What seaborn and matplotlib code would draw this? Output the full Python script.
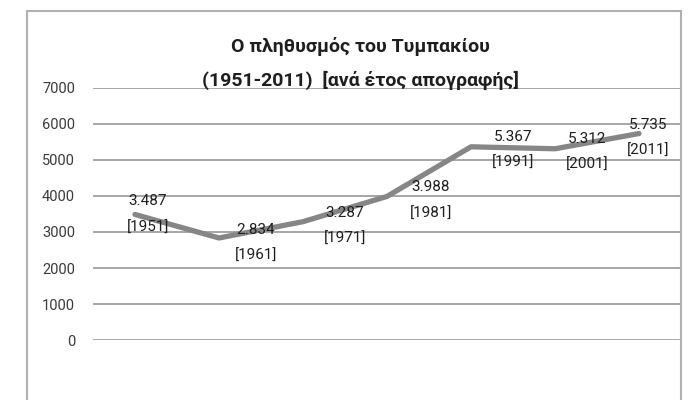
import matplotlib
matplotlib.use("Agg")
import matplotlib.pyplot as plt
from matplotlib import font_manager
from matplotlib.lines import Line2D
import seaborn as sns
import pandas as pd

# ---- data ----
years = ["1951", "1961", "1971", "1981", "1991", "2001", "2011"]
population = [3487, 2834, 3287, 3988, 5367, 5312, 5735]
yticks = [0, 1000, 2000, 3000, 4000, 5000, 6000, 7000]
title_lines = ["Ο πληθυσμός του Τυμπακίου", "(1951-2011)  [ανά έτος απογραφής]"]

# label offsets in pixels (style only)
label_dx = [13, 37, 42, 44, 42, 32, 9]
label_dy = [0, 5, 4, 4, 3, 3, 4]

sns.set_theme(style="white")
names = {f.name for f in font_manager.fontManager.ttflist}
fam = "Liberation Sans Narrow" if "Liberation Sans Narrow" in names else "Roboto"
plt.rcParams["font.family"] = [fam, "DejaVu Sans"]

df = pd.DataFrame({"idx": range(len(years)), "pop": population, "year": years})

fig = plt.figure(figsize=(6.96, 4.0), dpi=100)
fig.patch.set_facecolor("white")
W, H = 696, 400
ax = fig.add_axes([93 / W, 1 - 340 / H, (681 - 93) / W, (340 - 88) / H])

sns.lineplot(data=df, x="idx", y="pop", ax=ax, color="#868686", linewidth=3.8,
             solid_joinstyle="round", solid_capstyle="round", legend=False)

ax.set_xlim(-0.5, len(years) - 0.5)
ax.set_ylim(0, 7000)
ax.set_yticks(yticks)
ax.set_yticklabels([str(t) for t in yticks], fontsize=10.5, color="#3a3a3a")
ax.set_xticks([])
ax.set_xlabel("")
ax.set_ylabel("")
ax.tick_params(axis="y", length=0, pad=13)
for s in ax.spines.values():
    s.set_visible(False)
ax.yaxis.grid(True, color="#a6a6a6", linewidth=1.4)
ax.set_axisbelow(True)

for i, (v, y) in enumerate(zip(population, years)):
    vs = f"{v:,}".replace(",", ".")
    ax.annotate(vs, (i, v), xytext=(label_dx[i], -label_dy[i] + 13), textcoords="offset pixels",
                ha="center", va="center", fontsize=11, color="#1e1e1e")
    ax.annotate(f"[{y}]", (i, v), xytext=(label_dx[i], -label_dy[i] - 13), textcoords="offset pixels",
                ha="center", va="center", fontsize=11, color="#1e1e1e")

fig.text(360 / W, 1 - 47 / H, title_lines[0], ha="center", va="center",
         fontsize=14, fontweight="bold", color="#1e1e1e")
fig.text(360 / W, 1 - 80 / H, title_lines[1], ha="center", va="center",
         fontsize=14, fontweight="bold", color="#1e1e1e")

# outer chart border
bc = "#b0b0b0"
fig.add_artist(Line2D([27 / W, 27 / W], [0, 1 - 11 / H], color=bc, lw=1.5, transform=fig.transFigure))
fig.add_artist(Line2D([27 / W, 681 / W], [1 - 11 / H, 1 - 11 / H], color=bc, lw=1.5, transform=fig.transFigure))
fig.add_artist(Line2D([681 / W, 681 / W], [0, 1 - 11 / H], color=bc, lw=1.5, transform=fig.transFigure))

fig.savefig("out.png", dpi=100)
